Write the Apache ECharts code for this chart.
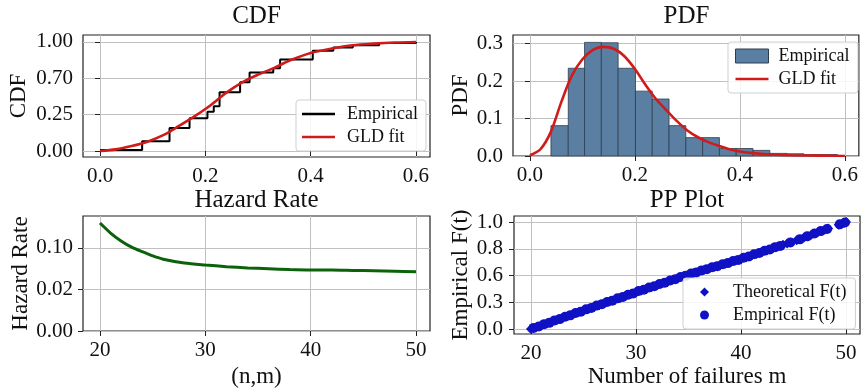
<!DOCTYPE html>
<html>
<head>
<meta charset="utf-8">
<script src="https://cdn.jsdelivr.net/npm/echarts@6.0.0/dist/echarts.min.js"></script>
<style>
  html, body { margin: 0; padding: 0; background: #fff; }
  #chart { width: 861px; height: 389px; }
</style>
</head>
<body>
<div id="chart"></div>
<script>
// CDF panel: empirical step function and GLD fit (y as fraction of the 0..1 axis)
const cdfEmpX = [0.0, 0.08, 0.132, 0.17, 0.204, 0.216, 0.227, 0.266, 0.284, 0.329, 0.342, 0.404, 0.443, 0.48, 0.53, 0.6]
const cdfEmpY = [0.01, 0.09, 0.21, 0.30, 0.36, 0.41, 0.54, 0.63, 0.72, 0.76, 0.84, 0.92, 0.95, 0.97, 0.99, 1.0]
const cdfFitX = [0, 0.03, 0.06, 0.09, 0.12, 0.15, 0.18, 0.21, 0.24, 0.27, 0.30, 0.33, 0.36, 0.40, 0.44, 0.48, 0.52, 0.56, 0.60]
const cdfFitY = [0.0, 0.015, 0.045, 0.085, 0.145, 0.23, 0.32, 0.42, 0.535, 0.63, 0.70, 0.76, 0.83, 0.90, 0.94, 0.97, 0.985, 0.995, 1.0]
const cdfYTicks = [0, 1 / 3, 2 / 3, 1]
const cdfYLabels = ['0.00', '0.25', '0.70', '1.00']

// PDF panel: histogram bins and GLD density
const pdfBinEdges = [0.040, 0.073, 0.104, 0.136, 0.168, 0.201, 0.233, 0.265, 0.297, 0.329, 0.361, 0.393, 0.425, 0.457, 0.490, 0.522, 0.554, 0.586]
const pdfBinHeights = [0.081, 0.234, 0.303, 0.302, 0.234, 0.173, 0.152, 0.081, 0.049, 0.049, 0.020, 0.020, 0.015, 0.007, 0.006, 0.004, 0.004]
const pdfFitX = [0, 0.02, 0.04, 0.06, 0.08, 0.10, 0.12, 0.14, 0.16, 0.18, 0.20, 0.22, 0.24, 0.26, 0.28, 0.30, 0.32, 0.34, 0.36, 0.38, 0.40, 0.43, 0.46, 0.50, 0.55, 0.60]
const pdfFitY = [0.002, 0.018, 0.065, 0.145, 0.215, 0.258, 0.283, 0.291, 0.286, 0.266, 0.232, 0.19, 0.152, 0.122, 0.093, 0.068, 0.05, 0.037, 0.027, 0.018, 0.012, 0.007, 0.004, 0.002, 0.001, 0.0]

// Hazard panel (y in tick positions: 0 -> '0.00', 1 -> '0.02', 2 -> '0.10')
const hazX = [20, 21, 22, 23, 24, 25, 26, 28, 30, 32, 34, 36, 38, 40, 42, 44, 46, 48, 50]
const hazY = [2.60, 2.36, 2.17, 2.02, 1.91, 1.81, 1.73, 1.64, 1.59, 1.55, 1.52, 1.50, 1.48, 1.47, 1.47, 1.46, 1.45, 1.44, 1.43]
const hazYTicks = [0, 1, 2]
const hazYLabels = ['0.00', '0.02', '0.10']

// PP plot (y as fraction of the 0..1 axis)
const ppTheoX = [20, 20.5, 21, 21.5, 22, 22.5, 23, 23.5, 24, 24.5, 25, 25.5, 26, 26.5, 27, 27.5, 28, 28.5, 29, 29.5,
  30, 30.5, 31, 31.5, 32, 32.5, 33, 33.5, 34, 34.5, 35, 35.5, 36, 36.5, 37, 37.5, 38, 38.5, 39, 39.5,
  40, 40.5, 41, 41.5, 42, 42.5, 43, 43.5, 44, 44.4, 45.3, 46.0, 46.7, 47.3, 48.0, 48.3, 49.3, 49.8, 50.0]
const ppTheoretical = [0.000, 0.017, 0.035, 0.052, 0.069, 0.087, 0.104, 0.121, 0.139, 0.156,
  0.173, 0.190, 0.207, 0.225, 0.242, 0.259, 0.276, 0.293, 0.310, 0.327,
  0.344, 0.361, 0.377, 0.394, 0.410, 0.427, 0.443, 0.460, 0.476, 0.493,
  0.509, 0.524, 0.538, 0.553, 0.567, 0.582, 0.596, 0.611, 0.625, 0.640,
  0.655, 0.671, 0.688, 0.704, 0.721, 0.737, 0.754, 0.770, 0.787,
  0.800, 0.830, 0.855, 0.880, 0.905, 0.930, 0.940, 0.975, 0.990, 1.000]
const ppEmpX = [20.25, 20.75, 21.25, 21.75, 22.25, 22.75, 23.25, 23.75, 24.25, 24.75, 25.25, 25.75, 26.25, 26.75, 27.25, 27.75,
  28.25, 28.75, 29.25, 29.75, 30.25, 30.75, 31.25, 31.75, 32.25, 32.75, 33.25, 33.75, 34.25, 34.75, 35.25, 35.75,
  36.25, 36.75, 37.25, 37.75, 38.25, 38.75, 39.25, 39.75, 40.25, 40.75, 41.25, 41.75, 42.25, 42.75, 43.25, 43.75,
  44.7, 45.6, 46.3, 47.0, 47.6, 48.2, 49.4, 49.9]
const ppEmpirical = [0.011, 0.024, 0.046, 0.058, 0.081, 0.093, 0.115, 0.128, 0.150, 0.162,
  0.184, 0.196, 0.219, 0.231, 0.253, 0.265, 0.287, 0.299, 0.321, 0.333,
  0.355, 0.367, 0.388, 0.400, 0.421, 0.433, 0.454, 0.466, 0.487, 0.499,
  0.519, 0.529, 0.548, 0.558, 0.577, 0.587, 0.606, 0.616, 0.635, 0.645,
  0.666, 0.677, 0.699, 0.710, 0.732, 0.743, 0.765, 0.776,
  0.808, 0.838, 0.866, 0.892, 0.915, 0.935, 0.978, 0.995]
const ppYTicks = [0, 0.25, 0.5, 0.75, 1]
const ppYLabels = ['0.0', '0.3', '0.6', '0.8', '1.0']

const xTicksUnit = [0, 0.2, 0.4, 0.6]
const xTicksCount = [20, 30, 40, 50]
const pdfYTicks = [0, 0.1, 0.2, 0.3]

const FONT = "'Liberation Serif', 'DejaVu Serif', serif"
const INK = '#111'
const RED = '#d11a1a'
const BLUE = '#1010c4'
// thin bar centred in a 33x14 box, used as the legend sample for lines
const LINE_ICON = 'path://M0,0L33,0Z M0,5.7L33,5.7L33,8.3L0,8.3Z M0,14L33,14Z'

const zip = (xs, ys) => xs.map((x, i) => [x, ys[i]])
const pickLabel = (ticks, labels) => v => {
  const i = ticks.findIndex(t => Math.abs(t - v) < 1e-6)
  return i < 0 ? '' : labels[i]
}

function axis(gridIndex, min, max, ticks, formatter, margin, extra) {
  return Object.assign({
    type: 'value',
    gridIndex,
    min,
    max,
    axisLine: { show: false },
    axisTick: { show: true, customValues: ticks, length: 5, lineStyle: { color: '#222', width: 1 } },
    axisLabel: { customValues: ticks, formatter, color: INK, fontFamily: FONT, fontSize: 21, margin },
    splitLine: { show: true, lineStyle: { color: '#c0c0c0', width: 1 } },
    nameTextStyle: { color: INK, fontFamily: FONT, fontSize: 23 },
    nameLocation: 'middle'
  }, extra || {})
}

const fix1 = v => v.toFixed(1)
const int0 = v => String(Math.round(v))

const frame = { show: true, borderColor: '#222', borderWidth: 1.2, backgroundColor: '#fff' }

const legendText = { color: INK, fontFamily: FONT, fontSize: 18, padding: [0, 0, 0, 7] }
const legendBase = {
  orient: 'vertical',
  backgroundColor: 'rgba(255,255,255,0.85)',
  borderColor: '#cfcfcf',
  borderWidth: 1,
  borderRadius: 3,
  itemGap: 5,
  textStyle: legendText
}

const titleFont = '25px ' + FONT

const option = {
  backgroundColor: '#fff',
  animation: false,
  graphic: [
    { type: 'text', x: 256.5, y: 4, style: { text: 'CDF', align: 'center', font: titleFont, fill: INK } },
    { type: 'text', x: 686.5, y: 4, style: { text: 'PDF', align: 'center', font: titleFont, fill: INK } },
    { type: 'text', x: 256.5, y: 188, style: { text: 'Hazard Rate', align: 'center', font: titleFont, fill: INK } },
    { type: 'text', x: 687, y: 188, style: { text: 'PP Plot', align: 'center', font: titleFont, fill: INK } }
  ],
  grid: [
    Object.assign({ left: 83, top: 35, width: 347, height: 122 }, frame),
    Object.assign({ left: 513, top: 35, width: 347, height: 121 }, frame),
    Object.assign({ left: 83, top: 216, width: 347, height: 119 }, frame),
    Object.assign({ left: 514, top: 216, width: 346, height: 119 }, frame)
  ],
  xAxis: [
    axis(0, -0.0323, 0.6266, xTicksUnit, fix1, 9),
    axis(1, -0.0323, 0.6266, xTicksUnit, fix1, 9),
    axis(2, 18.386, 51.33, xTicksCount, int0, 9, { name: '(n,m)', nameGap: 34 }),
    axis(3, 18.386, 51.33, xTicksCount, int0, 9, { name: 'Number of failures m', nameGap: 31 })
  ],
  yAxis: [
    axis(0, -0.055, 1.064, cdfYTicks, pickLabel(cdfYTicks, cdfYLabels), 10, { name: 'CDF', nameGap: 53 }),
    axis(1, 0, 0.3227, pdfYTicks, fix1, 10, { name: 'PDF', nameGap: 38 }),
    axis(2, 0, 2.77, hazYTicks, pickLabel(hazYTicks, hazYLabels), 10, { name: 'Hazard Rate', nameGap: 50 }),
    axis(3, -0.046, 1.056, ppYTicks, pickLabel(ppYTicks, ppYLabels), 11, { name: 'Empirical F(t)', nameGap: 42 })
  ],
  legend: [
    Object.assign({}, legendBase, {
      left: 296, top: 100, padding: [5, 8, 5, 6], itemWidth: 33, itemHeight: 14,
      data: [
        { name: 'Empirical', icon: LINE_ICON },
        { name: 'GLD fit', icon: LINE_ICON }
      ]
    }),
    Object.assign({}, legendBase, {
      left: 728, top: 42, padding: [5, 4, 5, 7], itemWidth: 33, itemHeight: 14,
      textStyle: Object.assign({}, legendText, { padding: [0, 0, 0, 5] }),
      data: [
        { name: 'Empirical ', icon: 'rect', itemStyle: { color: '#5b7fa3', borderColor: '#2f3e4e', borderWidth: 1 } },
        { name: 'GLD fit ', icon: LINE_ICON }
      ]
    }),
    Object.assign({}, legendBase, {
      left: 683, top: 278, padding: [5, 9, 5, 17], itemWidth: 9, itemHeight: 9,
      textStyle: Object.assign({}, legendText, { padding: [0, 0, 0, 19] }),
      data: [
        { name: 'Theoretical F(t)', icon: 'diamond' },
        { name: 'Empirical F(t)', icon: 'circle' }
      ]
    })
  ],
  series: [
    {
      name: 'Empirical', type: 'line', xAxisIndex: 0, yAxisIndex: 0, step: 'end',
      showSymbol: false, symbol: 'none', data: zip(cdfEmpX, cdfEmpY),
      itemStyle: { color: '#000' }, lineStyle: { color: '#000', width: 2 }
    },
    {
      name: 'GLD fit', type: 'line', xAxisIndex: 0, yAxisIndex: 0, smooth: 0.3,
      showSymbol: false, symbol: 'none', data: zip(cdfFitX, cdfFitY),
      itemStyle: { color: RED }, lineStyle: { color: RED, width: 2.6 }
    },
    {
      name: 'Empirical ', type: 'custom', xAxisIndex: 1, yAxisIndex: 1,
      encode: { x: [0, 1], y: 2 },
      itemStyle: { color: '#5b7fa3' },
      data: pdfBinHeights.map((h, i) => [pdfBinEdges[i], pdfBinEdges[i + 1], h]),
      renderItem: (params, api) => {
        const p0 = api.coord([api.value(0), 0])
        const p1 = api.coord([api.value(1), api.value(2)])
        return {
          type: 'rect',
          shape: { x: p0[0], y: p1[1], width: p1[0] - p0[0], height: p0[1] - p1[1] },
          style: { fill: '#5b7fa3', stroke: '#2f3e4e', lineWidth: 0.8 }
        }
      }
    },
    {
      name: 'GLD fit ', type: 'line', xAxisIndex: 1, yAxisIndex: 1, smooth: 0.3,
      showSymbol: false, symbol: 'none', data: zip(pdfFitX, pdfFitY),
      itemStyle: { color: RED }, lineStyle: { color: RED, width: 2.6 }
    },
    {
      name: 'Hazard', type: 'line', xAxisIndex: 2, yAxisIndex: 2, smooth: 0.3,
      showSymbol: false, symbol: 'none', data: zip(hazX, hazY),
      itemStyle: { color: '#0b620b' }, lineStyle: { color: '#0b620b', width: 3 }
    },
    {
      name: 'Theoretical F(t)', type: 'scatter', xAxisIndex: 3, yAxisIndex: 3,
      symbol: 'diamond', symbolSize: 10, data: zip(ppTheoX, ppTheoretical), clip: false,
      itemStyle: { color: BLUE, opacity: 1 }
    },
    {
      name: 'Empirical F(t)', type: 'scatter', xAxisIndex: 3, yAxisIndex: 3,
      symbol: 'circle', symbolSize: 10, data: zip(ppEmpX, ppEmpirical), clip: false,
      itemStyle: { color: BLUE, opacity: 1 }
    }
  ]
}

const chart = echarts.init(document.getElementById('chart'), null, { renderer: 'canvas' })
chart.setOption(option)
</script>
</body>
</html>
